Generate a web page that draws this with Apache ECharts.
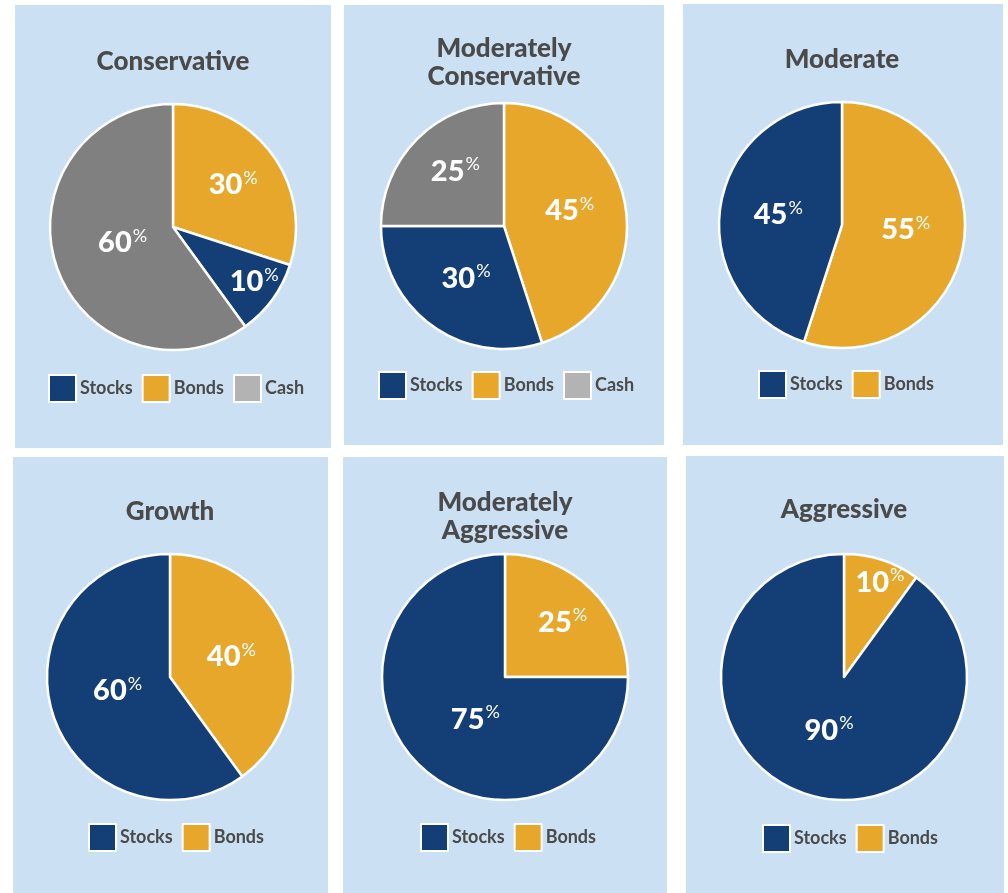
<!DOCTYPE html>
<html>
<head>
<meta charset="utf-8">
<script src="https://cdn.jsdelivr.net/npm/echarts@6/dist/echarts.min.js"></script>
<style>
html,body{margin:0;padding:0;background:#fff;}
#c{width:1008px;height:893px;}
</style>
</head>
<body>
<div id="c"></div>
<script>
// ---- data ----
const profiles = ['Conservative', 'Moderately\nConservative', 'Moderate', 'Growth', 'Moderately\nAggressive', 'Aggressive'];
const categories = ['Stocks', 'Bonds', 'Cash'];
const stocks = [10, 30, 45, 60, 75, 90];
const bonds  = [30, 45, 55, 40, 25, 10];
const cash   = [60, 25, 0, 0, 0, 0];

// ---- layout / style (not data) ----
const panels = [
  {x: 15,  y: 5,   w: 316, h: 443, cx: 173, cy: 227, ty: [62],      lx: 48,  ly: 374},
  {x: 344, y: 5,   w: 320, h: 440, cx: 504, cy: 226, ty: [49, 77],  lx: 378, ly: 371},
  {x: 683, y: 4,   w: 320, h: 441, cx: 842, cy: 225, ty: [60],      lx: 758, ly: 370},
  {x: 13,  y: 457, w: 315, h: 436, cx: 170, cy: 677, ty: [512],     lx: 88,  ly: 823},
  {x: 343, y: 457, w: 324, h: 436, cx: 505, cy: 677, ty: [503, 531],lx: 420, ly: 823},
  {x: 686, y: 456, w: 318, h: 437, cx: 844, cy: 677, ty: [510],     lx: 762, ly: 824}
];
const labelNudge = {
  '0-Bonds': [8, -4], '0-Stocks': [29, 17], '0-Cash': [11, -4],
  '1-Cash': [-3, -9], '1-Bonds': [2, -5],
  '2-Bonds': [0, -5],
  '3-Stocks': [9, -6],
  '4-Bonds': [12, -9], '4-Stocks': [16, -3],
  '5-Bonds': [16, -33], '5-Stocks': [5, -8]
};
const colors = {Stocks: '#143f76', Bonds: '#e6a72b', Cash: '#808080'};
const legendColors = {Stocks: '#143f76', Bonds: '#e6a72b', Cash: '#b3b3b3'};
const FONT = 'Lato';
const BG = '#cce0f3';
const TXT = '#4a4a4a';

const graphic = [];
const legends = [];
const series = [];

panels.forEach((p, i) => {
  graphic.push({type: 'rect', shape: {x: p.x, y: p.y, width: p.w, height: p.h}, style: {fill: BG}, z: -10, silent: true});
  profiles[i].split('\n').forEach((line, k) => {
    graphic.push({type: 'text', x: p.cx, y: p.ty[k], style: {text: line, fill: TXT, font: '900 26px ' + FONT, align: 'center', verticalAlign: 'middle'}, z: 10});
  });
  const vals = {Stocks: stocks[i], Bonds: bonds[i], Cash: cash[i]};
  const order = ['Bonds', 'Stocks', 'Cash'].filter(n => vals[n] > 0);
  const legNames = categories.filter(n => vals[n] > 0);
  legends.push({
    left: p.lx, top: p.ly, padding: 0, itemWidth: 27, itemHeight: 27, itemGap: 9,
    icon: 'rect', selectedMode: false,
    data: legNames.map(n => ({name: n, itemStyle: {color: legendColors[n]}})),
    textStyle: {fontFamily: FONT, fontWeight: 'bold', fontSize: 18, color: TXT, padding: [0, 0, 0, -1]}
  });
  series.push({
    type: 'pie', center: [p.cx, p.cy], radius: 123, startAngle: 90, clockwise: true,
    silent: true, animation: false,
    itemStyle: {borderColor: '#ffffff', borderWidth: 2.5},
    labelLine: {show: false},
    label: {
      show: true, position: 'inside',
      formatter: d => '{v|' + d.value + '}{p|%}',
      rich: {
        v: {fontFamily: FONT, fontWeight: '900', fontSize: 29, color: '#fff', lineHeight: 32},
        p: {fontFamily: FONT, fontWeight: 'normal', fontSize: 18, color: '#fff', verticalAlign: 'top', lineHeight: 32, padding: [0, 0, 14, 1]}
      }
    },
    data: order.map(n => {
      const nudge = labelNudge[i + '-' + n];
      const item = {name: n, value: vals[n], itemStyle: {color: colors[n]}};
      if (nudge) item.label = {offset: nudge};
      return item;
    })
  });
});

const chart = echarts.init(document.getElementById('c'), null, {renderer: 'canvas'});
chart.setOption({
  backgroundColor: '#ffffff',
  animation: false,
  graphic: graphic,
  legend: legends,
  series: series
});
</script>
</body>
</html>
